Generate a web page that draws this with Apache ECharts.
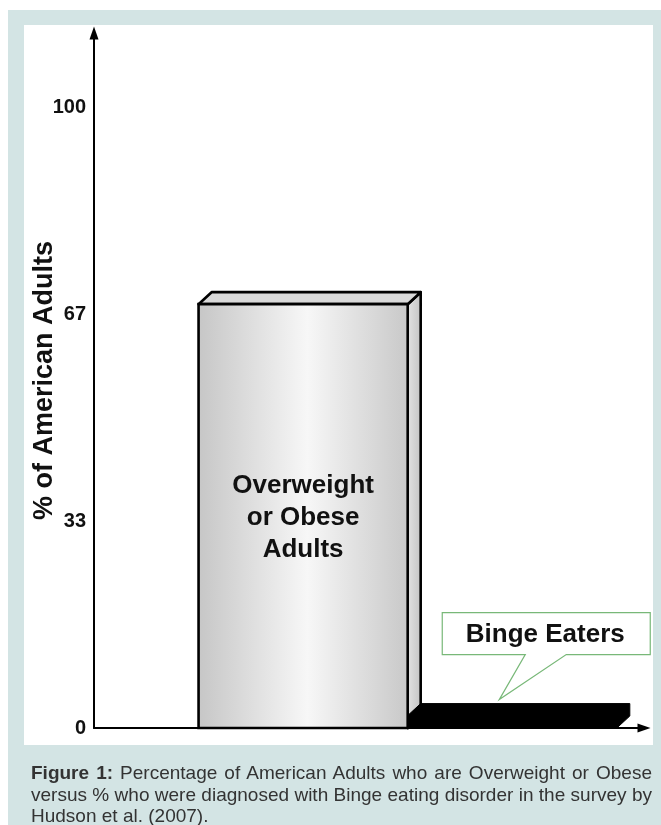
<!DOCTYPE html>
<html>
<head>
<meta charset="utf-8">
<script src="https://cdn.jsdelivr.net/npm/echarts@6/dist/echarts.min.js"></script>
<style>
  html, body { margin: 0; padding: 0; background: #ffffff; }
  #wrap { position: relative; width: 661px; height: 825px; overflow: hidden; }
  #frame { position: absolute; left: 8px; top: 10px; right: 0; bottom: 0; background: #d3e4e4; }
  #panel { position: absolute; left: 24px; top: 25px; width: 629px; height: 720px; background: #ffffff; }
  #chart { position: absolute; left: 0; top: 0; width: 661px; height: 825px; }
  #cap { position: absolute; left: 31px; top: 762px; width: 621px; font-family: 'Liberation Sans', Arial, sans-serif;
         font-size: 19px; line-height: 21.5px; color: #333333; }
  #cap .j { text-align: justify; text-align-last: justify; white-space: nowrap; }
  #cap .l { text-align: left; white-space: nowrap; }
</style>
</head>
<body>
<div id="wrap">
  <div id="frame"></div>
  <div id="panel"></div>
  <div id="chart"></div>
  <div id="cap">
    <div class="j"><b>Figure 1:</b> Percentage of American Adults who are Overweight or Obese</div>
    <div class="j">versus % who were diagnosed with Binge eating disorder in the survey by</div>
    <div class="l">Hudson et al. (2007).</div>
  </div>
</div>
<script>
// ---- data ----
const categories = ['Overweight or Obese Adults', 'Binge Eaters'];
const barLabels = ['Overweight\nor Obese\nAdults', 'Binge Eaters'];
const values = [68.3, 2];
const yTickValues = [0, 100 / 3, 200 / 3, 100];
const yTickLabels = ['0', '33', '67', '100'];
const yAxisTitle = '% of American Adults';

const FONT = "'Liberation Sans', Arial, sans-serif";
const seriesData = values.map((v, i) => [i + 1, v, categories[i]]);

function renderItem(params, api) {
  const x = api.value(0), v = api.value(1);
  const i = params.dataIndex;
  const bl = api.coord([x - 0.5, 0]);
  const tr = api.coord([x + 0.5, v]);
  const L = bl[0], B = bl[1], R = tr[0], T = tr[1];
  const dx = 13, dy = 12;
  const children = [];
  if (i === 0) {
    const stroke = '#000000', lw = 2.6;
    children.push({
      type: 'polygon',
      shape: { points: [[R, T], [R + dx, T - dy], [R + dx, B - dy], [R, B]] },
      style: { fill: { type: 'linear', x: 0, y: 0, x2: 1, y2: 0, colorStops: [
        { offset: 0, color: '#e4e4e4' }, { offset: 1, color: '#c2c2c2' }] }, stroke: stroke, lineWidth: lw, lineJoin: 'round' }
    });
    children.push({
      type: 'polygon',
      shape: { points: [[L, T], [L + dx, T - dy], [R + dx, T - dy], [R, T]] },
      style: { fill: '#d9d9d9', stroke: stroke, lineWidth: lw, lineJoin: 'round' }
    });
    children.push({
      type: 'rect',
      shape: { x: L, y: T, width: R - L, height: B - T },
      style: { fill: { type: 'linear', x: 0, y: 0, x2: 1, y2: 0, colorStops: [
        { offset: 0, color: '#c6c6c6' }, { offset: 0.52, color: '#f7f7f7' }, { offset: 1, color: '#c8c8c8' }] },
        stroke: stroke, lineWidth: lw }
    });
    children.push({
      type: 'text',
      x: (L + R) / 2, y: (T + B) / 2 + 2,
      style: { text: barLabels[i], fill: '#111111', font: 'bold 26px ' + FONT, align: 'center',
               verticalAlign: 'middle', lineHeight: 32 }
    });
  } else {
    children.push({
      type: 'polygon',
      shape: { points: [[L, T], [L + dx, T - dy], [R + dx, T - dy], [R + dx, B - dy], [R, B], [L, B]] },
      style: { fill: '#000000', stroke: '#000000', lineWidth: 1 }
    });
    const cx = (L + R) / 2, tb = T - dy;
    const bx0 = cx - 70, bx1 = cx + 138, by0 = tb - 91, by1 = tb - 49;
    children.push({
      type: 'polygon',
      shape: { points: [[bx0, by0], [bx1, by0], [bx1, by1], [cx + 54, by1], [cx - 13, tb - 4], [cx + 13, by1], [bx0, by1]] },
      style: { fill: '#ffffff', stroke: '#78b878', lineWidth: 1.2 }
    });
    children.push({
      type: 'text',
      x: (bx0 + bx1) / 2 - 1, y: (by0 + by1) / 2 + 1,
      style: { text: barLabels[i], fill: '#111111', font: 'bold 26px ' + FONT, align: 'center', verticalAlign: 'middle' }
    });
  }
  return { type: 'group', children: children };
}

const chart = echarts.init(document.getElementById('chart'), null, { renderer: 'canvas' });
chart.setOption({
  animation: false,
  backgroundColor: 'transparent',
  grid: { left: 94, right: 17, top: 33, bottom: 97, containLabel: false },
  xAxis: {
    type: 'value', min: 0, max: 2.63,
    axisLine: { show: true, onZero: false, lineStyle: { color: '#000', width: 2 },
                symbol: ['none', 'triangle'], symbolSize: [9, 13] },
    axisTick: { show: false }, axisLabel: { show: false }, splitLine: { show: false }
  },
  yAxis: {
    type: 'value', min: 0, max: 112, interval: 100 / 3,
    name: yAxisTitle, nameLocation: 'middle', nameRotate: 90, nameGap: 36, nameMoveOverlap: false,
    nameTextStyle: { fontFamily: FONT, fontWeight: 'bold', fontSize: 27, color: '#111' },
    axisLine: { show: true, lineStyle: { color: '#000', width: 2 },
                symbol: ['none', 'triangle'], symbolSize: [9, 13] },
    axisTick: { show: false },
    axisLabel: {
      show: true, showMaxLabel: false, margin: 8,
      fontFamily: FONT, fontWeight: 'bold', fontSize: 20, color: '#111',
      formatter: function (val) {
        for (let k = 0; k < yTickValues.length; k++) {
          if (Math.abs(val - yTickValues[k]) < 0.01) return yTickLabels[k];
        }
        return '';
      }
    },
    splitLine: { show: false }
  },
  series: [{
    type: 'custom', renderItem: renderItem, clip: false,
    encode: { x: 0, y: 1 },
    data: seriesData
  }]
});
</script>
</body>
</html>
